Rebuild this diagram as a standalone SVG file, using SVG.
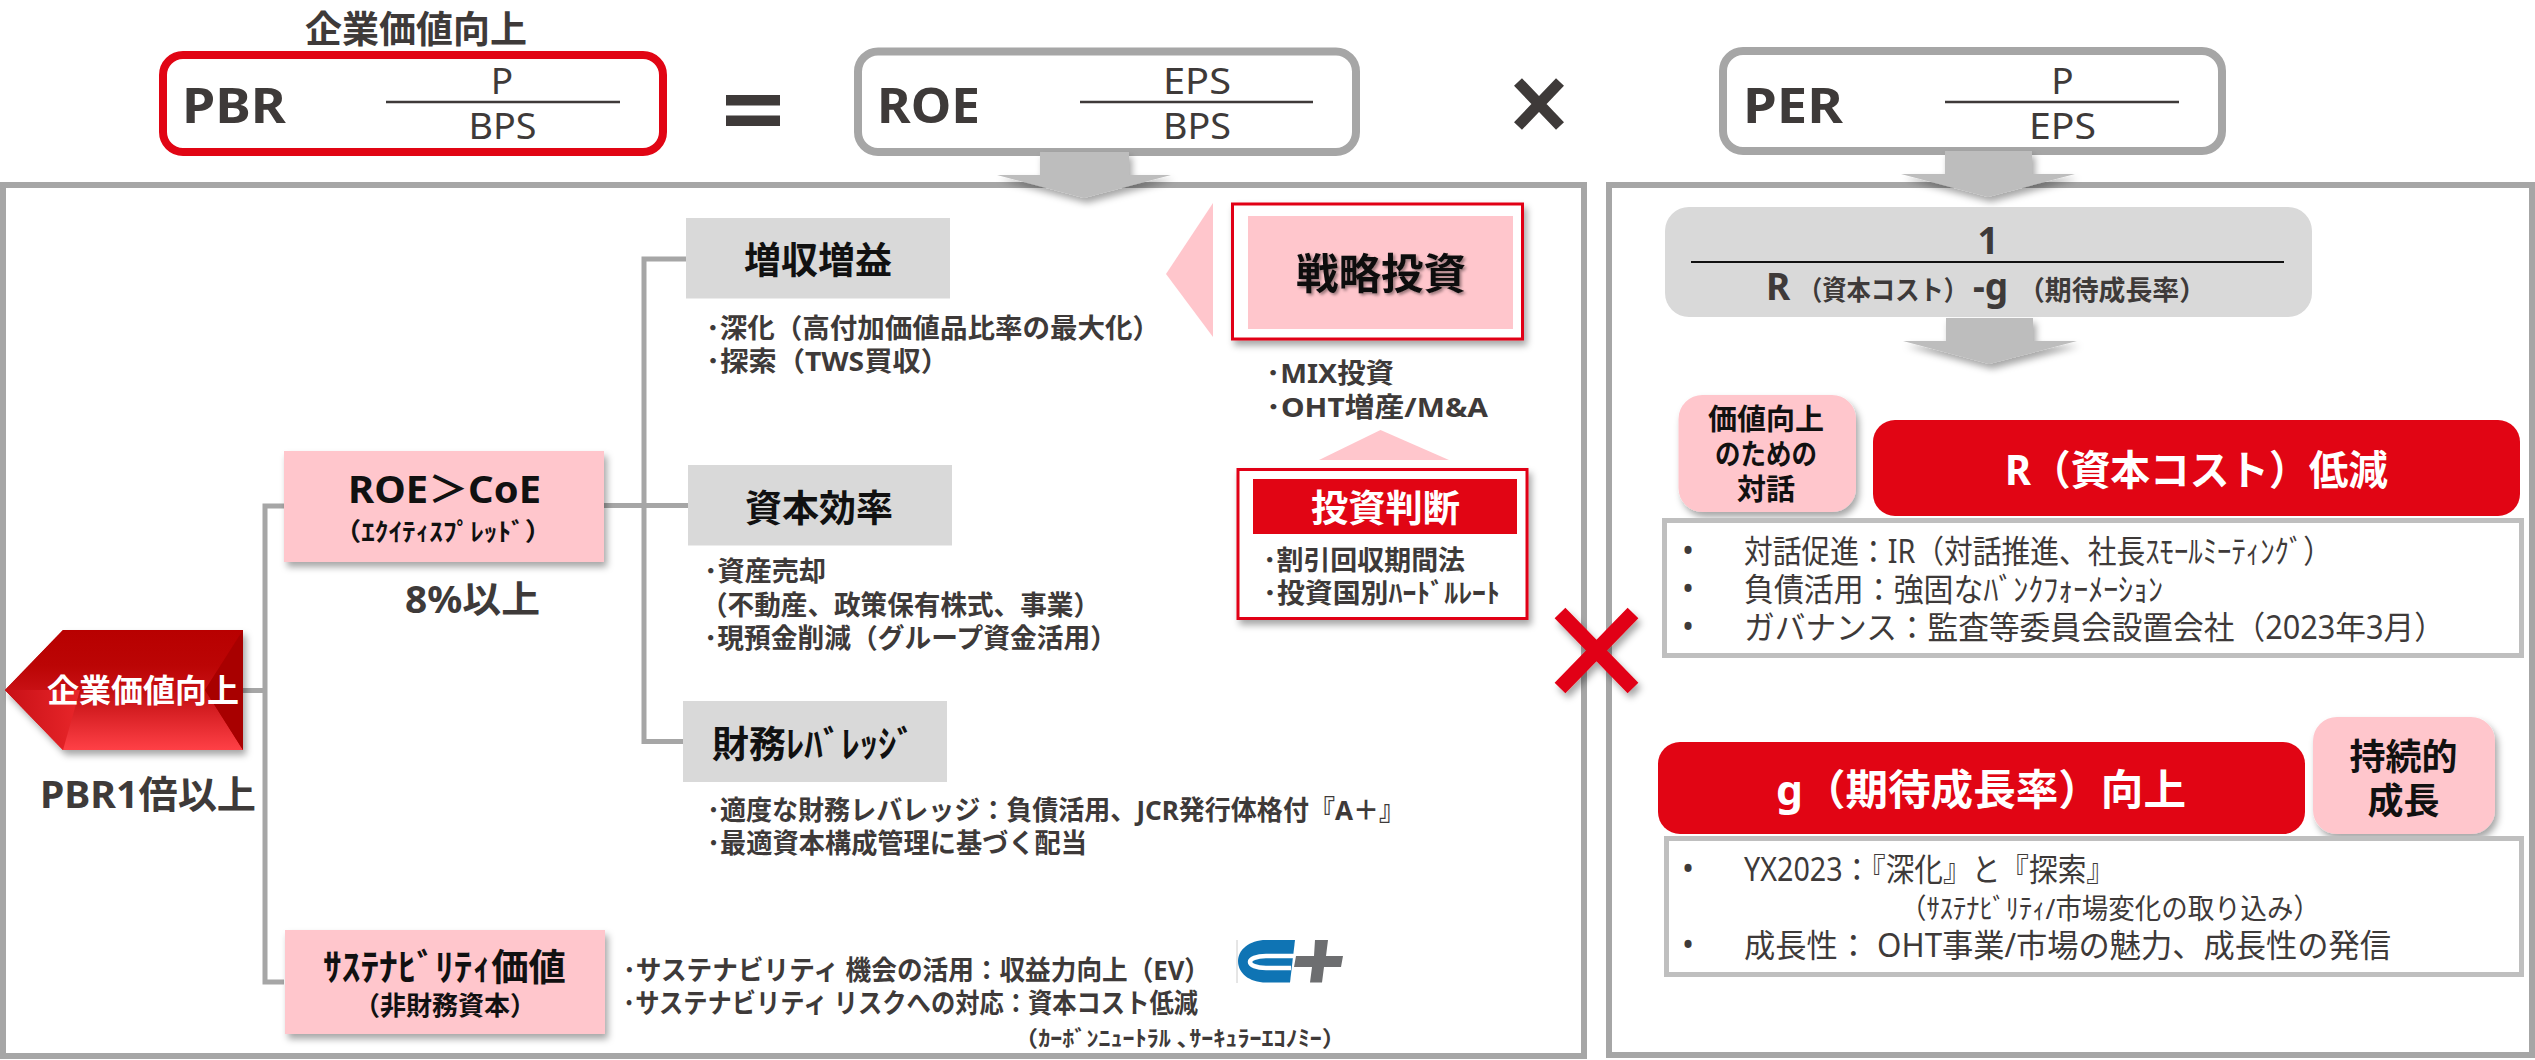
<svg xmlns="http://www.w3.org/2000/svg" width="2535" height="1060" viewBox="0 0 2535 1060">
<defs>
<style>
text{font-family:"Noto Sans","Noto Sans CJK JP",sans-serif;fill:#3e3a39;}
.jb{font-family:"Noto Sans CJK JP","Noto Sans",sans-serif;}
.b{font-weight:700;}
.c{text-anchor:middle;}
.k{fill:#111;}
.w{fill:#fff;}
.s27{font-size:27px;font-weight:700;}
.s32{font-size:32px;}
.big{font-size:48px;font-weight:700;}
.frac{font-size:37px;}
.pink{fill:#ffc6cc;}
.grey{fill:#d9d9d9;}
.red{fill:#e10514;}
.fl{stroke:#3e3a39;stroke-width:2.5;}
.con{fill:none;stroke:#a6a6a6;stroke-width:5;}
.panel{fill:#fff;stroke:#a6a6a6;stroke-width:6;}
.lst{fill:#fff;stroke:#bfbfbf;stroke-width:5;}
.arrow{fill:#bdbdbd;}
</style>
<filter id="sh" x="-20%" y="-20%" width="140%" height="150%"><feDropShadow dx="3" dy="5" stdDeviation="3.500" flood-color="#000" flood-opacity=".35"/></filter>
<filter id="ts" x="-10%" y="-10%" width="120%" height="130%"><feDropShadow dx="2" dy="2" stdDeviation="1.500" flood-color="#000" flood-opacity=".4"/></filter>
<linearGradient id="hexTop" x1="0" y1="0" x2="0" y2="1"><stop offset="0" stop-color="#b80000"/><stop offset=".6" stop-color="#bb0505"/><stop offset="1" stop-color="#c81014"/></linearGradient>
<linearGradient id="hexBot" x1="0" y1="0" x2="0" y2="1"><stop offset="0" stop-color="#c00d10"/><stop offset="1" stop-color="#ff4046"/></linearGradient>
<linearGradient id="hexL" x1="0" y1="0" x2="1" y2="0"><stop offset="0" stop-color="#c81016"/><stop offset="1" stop-color="#e8262a"/></linearGradient>
</defs>
<rect width="2535" height="1060" fill="#fff"/>

<g id="panel-left"><rect class="panel" x="3" y="185" width="1581" height="871"/></g>
<g id="panel-right"><rect class="panel" x="1609" y="185" width="923" height="870"/></g>

<g id="connectors">
<path class="con" d="M243 690.500H265M284 506H265V982H284"/>
<path class="con" d="M686 259H644V741.500H683M604 505.500H688"/>
</g>

<g id="title-value"><text class="jb b" x="305" y="43" font-size="37" textLength="222" lengthAdjust="spacingAndGlyphs">企業価値向上</text></g>
<g id="pbr">
<rect x="163" y="55" width="500" height="97" rx="20" fill="#fff" stroke="#e10514" stroke-width="8"/>
<text class="big" x="182" y="123" textLength="104" lengthAdjust="spacingAndGlyphs">PBR</text>
<line class="fl" x1="386" y1="102" x2="620" y2="102"/>
<text class="frac c" x="502" y="94">P</text><text class="frac" x="468.500" y="138.500" textLength="68" lengthAdjust="spacingAndGlyphs">BPS</text>
</g>
<g id="equals"><rect x="726" y="95" width="54" height="10.500" fill="#3e3a39"/><rect x="726" y="115.500" width="54" height="10.500" fill="#3e3a39"/></g>
<g id="roe">
<rect x="858" y="51.500" width="498" height="100.500" rx="20" fill="#fff" stroke="#a6a6a6" stroke-width="8"/>
<text class="big" x="877" y="123" textLength="103" lengthAdjust="spacingAndGlyphs">ROE</text>
<line class="fl" x1="1080" y1="102" x2="1313" y2="102"/>
<text class="frac" x="1163" y="94" textLength="68" lengthAdjust="spacingAndGlyphs">EPS</text><text class="frac" x="1163" y="138.500" textLength="68" lengthAdjust="spacingAndGlyphs">BPS</text>
</g>
<g id="times"><path d="M1518 82 1560 126M1560 82 1518 126" fill="none" stroke="#3e3a39" stroke-width="11"/></g>
<g id="per">
<rect x="1723" y="51" width="499" height="100" rx="20" fill="#fff" stroke="#a6a6a6" stroke-width="8"/>
<text class="big" x="1743" y="123" textLength="100" lengthAdjust="spacingAndGlyphs">PER</text>
<line class="fl" x1="1945" y1="102" x2="2179" y2="102"/>
<text class="frac c" x="2062.500" y="94">P</text><text class="frac" x="2029" y="138.500" textLength="67" lengthAdjust="spacingAndGlyphs">EPS</text>
</g>

<g id="arrow-roe"><path class="arrow" filter="url(#sh)" d="M1040 152H1129V175H1171L1084 198 997 175H1040Z"/></g>
<g id="arrow-per"><path class="arrow" filter="url(#sh)" d="M1945 151H2032V174H2075L1988 197 1901 174H1945Z"/></g>

<g id="node-hex">
<path filter="url(#sh)" d="M5 690 63 630H243V750H63Z" fill="#b80000"/>
<path d="M5 690 63 630H243L205 690Z" fill="url(#hexTop)"/>
<path d="M5 690H205L243 750H63Z" fill="url(#hexBot)"/>
<path d="M5 690H80L63 750Z" fill="url(#hexL)"/>
<path d="M205 690 243 630V750Z" fill="#a80000"/>
<text class="jb b w" x="47" y="702" font-size="32" textLength="192" lengthAdjust="spacingAndGlyphs">企業価値向上</text>
</g>
<g id="label-pbr1"><text class="b" x="40" y="807.500" font-size="38" textLength="216" lengthAdjust="spacingAndGlyphs">PBR1倍以上</text></g>

<g id="node-roe-coe">
<rect class="pink" filter="url(#sh)" x="284" y="451" width="320" height="111"/>
<text class="b k" x="348" y="503" font-size="37" textLength="193" lengthAdjust="spacingAndGlyphs">ROE＞CoE</text>
<text class="b k" x="334" y="541" font-size="25" textLength="218" lengthAdjust="spacingAndGlyphs">（ｴｸｲﾃｨｽﾌﾟﾚｯﾄﾞ）</text>
</g>
<g id="label-8"><text class="b" x="405" y="613" font-size="37" textLength="135" lengthAdjust="spacingAndGlyphs">8%以上</text></g>

<g id="node-sustain">
<rect class="pink" filter="url(#sh)" x="285" y="930" width="320" height="104"/>
<text class="b k" x="323" y="981" font-size="37" textLength="243" lengthAdjust="spacingAndGlyphs">ｻｽﾃﾅﾋﾞﾘﾃｨ価値</text>
<text class="b k" x="354" y="1015" font-size="26" textLength="182" lengthAdjust="spacingAndGlyphs">（非財務資本）</text>
</g>
<g id="text-sustain">
<text class="s27" x="623" y="980" textLength="587" lengthAdjust="spacingAndGlyphs">･サステナビリティ  機会の活用：収益力向上（EV）</text>
<text class="s27" x="623" y="1013" textLength="575" lengthAdjust="spacingAndGlyphs">･サステナビリティ  リスクへの対応：資本コスト低減</text>
<text class="b" x="1014" y="1046" font-size="22" textLength="332" lengthAdjust="spacingAndGlyphs">（ｶｰﾎﾞﾝﾆｭｰﾄﾗﾙ ､ｻｰｷｭﾗｰｴｺﾉﾐｰ）</text>
</g>
<g id="logo">
<path d="M1237 940V983" stroke="#ccc" stroke-width="1"/>
<path d="M1295 940H1266C1249 940 1238 950 1238 961 1238 973 1249 982.500 1266 982.500H1290Z" fill="#0f74b4"/>
<path d="M1294 956H1266C1256 956 1250 959 1250 962 1250 965 1256 968 1266 968H1291" fill="none" stroke="#fff" stroke-width="4.500"/>
<path d="M1315 940H1328L1326 956H1343L1341 967H1324L1322 982.500H1310L1312 967H1294L1296 956H1314Z" fill="#6d6e70"/>
</g>

<g id="node-zoushu">
<rect class="grey" x="686" y="218" width="264" height="80.500"/>
<text class="b k" x="744" y="274" font-size="37" textLength="148" lengthAdjust="spacingAndGlyphs">増収増益</text>
</g>
<g id="text-zoushu">
<text class="s27" x="706" y="338" textLength="454" lengthAdjust="spacingAndGlyphs">･深化（高付加価値品比率の最大化）</text>
<text class="s27" x="706" y="371" textLength="243" lengthAdjust="spacingAndGlyphs">･探索（TWS買収）</text>
</g>
<g id="node-shihon">
<rect class="grey" x="688" y="465" width="264" height="80.500"/>
<text class="b k" x="745" y="521.500" font-size="37" textLength="148" lengthAdjust="spacingAndGlyphs">資本効率</text>
</g>
<g id="text-shihon">
<text class="s27" x="704" y="581" textLength="122" lengthAdjust="spacingAndGlyphs">･資産売却</text>
<text class="s27" x="701" y="615" textLength="399" lengthAdjust="spacingAndGlyphs">（不動産、政策保有株式、事業）</text>
<text class="s27" x="704" y="648" textLength="413" lengthAdjust="spacingAndGlyphs">･現預金削減（グループ資金活用）</text>
</g>
<g id="node-zaimu">
<rect class="grey" x="683" y="701" width="264" height="81"/>
<text class="b k" x="712" y="757.500" font-size="37" textLength="203" lengthAdjust="spacingAndGlyphs">財務ﾚﾊﾞﾚｯｼﾞ</text>
</g>
<g id="text-zaimu">
<text class="s27" x="707" y="820" textLength="698" lengthAdjust="spacingAndGlyphs">･適度な財務レバレッジ：負債活用、JCR発行体格付『A＋』</text>
<text class="s27" x="707" y="853" textLength="380" lengthAdjust="spacingAndGlyphs">･最適資本構成管理に基づく配当</text>
</g>

<g id="node-senryaku">
<path class="pink" d="M1213 203V337L1166 274Z"/>
<rect x="1232.500" y="204" width="290" height="135" fill="#fff" stroke="#e10514" stroke-width="3" filter="url(#sh)"/>
<rect class="pink" x="1248" y="216" width="265" height="113"/>
<text class="b k" x="1296" y="289" font-size="42" textLength="170" lengthAdjust="spacingAndGlyphs" filter="url(#ts)">戦略投資</text>
</g>
<g id="text-senryaku">
<text class="s27" x="1266" y="383" textLength="128" lengthAdjust="spacingAndGlyphs">･MIX投資</text>
<text class="s27" x="1266" y="417" textLength="222" lengthAdjust="spacingAndGlyphs">･OHT増産/M&amp;A</text>
</g>
<g id="tri-up"><path class="pink" d="M1380.500 430 1449 460H1319Z"/></g>
<g id="node-toushi">
<rect x="1238" y="469.500" width="289" height="149" fill="#fff" stroke="#e10514" stroke-width="3" filter="url(#sh)"/>
<rect class="red" x="1253" y="479" width="264" height="55"/>
<text class="b w" x="1311" y="522" font-size="37" textLength="149" lengthAdjust="spacingAndGlyphs">投資判断</text>
<text class="s27" x="1263" y="570" textLength="202" lengthAdjust="spacingAndGlyphs">･割引回収期間法</text>
<text class="s27" x="1263" y="603" textLength="237" lengthAdjust="spacingAndGlyphs">･投資国別ﾊｰﾄﾞﾙﾚｰﾄ</text>
</g>

<g id="cross"><path filter="url(#sh)" d="M1560 613 1633 688M1633 613 1560 688" fill="none" stroke="#e10514" stroke-width="15"/></g>

<g id="node-formula">
<rect class="grey" x="1665" y="207" width="647" height="110" rx="24"/>
<line x1="1691" y1="262" x2="2284" y2="262" stroke="#111" stroke-width="2"/>
<text class="b c" x="1988" y="254" font-size="37">1</text>
<text class="b" x="1766" y="300" font-size="37">R</text>
<text class="b" x="1798" y="300" font-size="27" textLength="170" lengthAdjust="spacingAndGlyphs">（資本コスト）</text>
<text class="b" x="1973" y="300" font-size="37">-g</text>
<text class="b" x="2018" y="300" font-size="27" textLength="188" lengthAdjust="spacingAndGlyphs">（期待成長率）</text>
</g>
<g id="arrow-formula"><path class="arrow" filter="url(#sh)" d="M1946 318H2033V341H2077L1989 364 1903 341H1946Z"/></g>

<g id="node-dialog">
<rect class="pink" filter="url(#sh)" x="1678.500" y="395" width="177.500" height="117" rx="24"/>
<text class="b c k" x="1766" y="430" font-size="29">価値向上</text>
<text class="b k" x="1715" y="465" font-size="29" textLength="102" lengthAdjust="spacingAndGlyphs">のための</text>
<text class="b c k" x="1766" y="500" font-size="29">対話</text>
</g>
<g id="node-r">
<rect class="red" x="1873" y="420" width="647" height="96" rx="22"/>
<text class="b w" x="2005" y="485" font-size="41" textLength="383" lengthAdjust="spacingAndGlyphs">R（資本コスト）低減</text>
</g>
<g id="list-r">
<rect class="lst" x="1664.500" y="520.500" width="857" height="135"/>
<g class="s32">
<text x="1682" y="562">•</text><text x="1744" y="562.500" textLength="588" lengthAdjust="spacingAndGlyphs">対話促進：IR（対話推進、社長ｽﾓｰﾙﾐｰﾃｨﾝｸﾞ）</text>
<text x="1682" y="600">•</text><text x="1744" y="600.500" textLength="419" lengthAdjust="spacingAndGlyphs">負債活用：強固なﾊﾞﾝｸﾌｫｰﾒｰｼｮﾝ</text>
<text x="1682" y="638">•</text><text x="1744" y="639" textLength="701" lengthAdjust="spacingAndGlyphs">ガバナンス：監査等委員会設置会社（2023年3月）</text>
</g>
</g>
<g id="node-g">
<rect class="red" x="1658" y="742" width="647" height="92" rx="22"/>
<text class="b w" x="1776" y="805" font-size="42" textLength="410" lengthAdjust="spacingAndGlyphs">g（期待成長率）向上</text>
</g>
<g id="node-sustained">
<rect class="pink" filter="url(#sh)" x="2313" y="717" width="182" height="117" rx="24"/>
<text class="b c k" x="2403.500" y="770" font-size="36">持続的</text>
<text class="b c k" x="2403.500" y="813.500" font-size="36">成長</text>
</g>
<g id="list-g">
<rect class="lst" x="1666.500" y="838.500" width="855" height="136"/>
<g class="s32">
<text x="1682" y="880">•</text><text x="1744" y="881" textLength="371" lengthAdjust="spacingAndGlyphs">YX2023：『深化』と『探索』</text>
<text x="1900" y="918.500" font-size="28" textLength="420" lengthAdjust="spacingAndGlyphs">（ｻｽﾃﾅﾋﾞﾘﾃｨ/市場変化の取り込み）</text>
<text x="1682" y="956">•</text><text x="1744" y="957" textLength="647" lengthAdjust="spacingAndGlyphs">成長性： OHT事業/市場の魅力、成長性の発信</text>
</g>
</g>
</svg>
